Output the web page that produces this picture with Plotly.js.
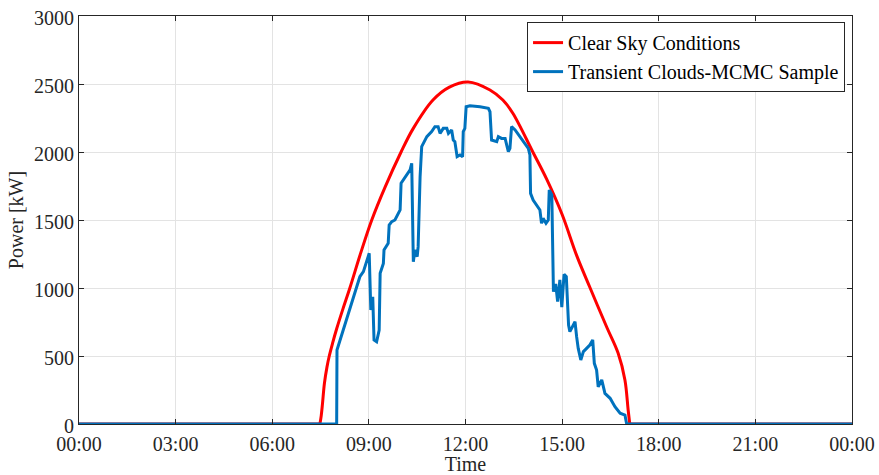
<!DOCTYPE html>
<html>
<head>
<meta charset="utf-8">
<script src="https://cdn.plot.ly/plotly-3.0.1.min.js"></script>
<style>html,body{margin:0;padding:0;background:#fff;}#chart{width:879px;height:475px;}</style>
</head>
<body>
<div id="chart"></div>
<script>
// Time in hours of the day
var clearNightHours = [0, 7.48, null, 17.1, 24];
var clearNightPower = [0, 0, null, 0, 0];
var clearHours = [7.48, 7.52, 7.56, 7.62, 7.70, 7.77, 7.88, 8.0, 8.2, 8.41, 8.75, 9.09, 9.5, 10.0, 10.37, 10.99, 11.5, 12.08, 12.76, 13.16, 13.47, 14.09, 14.52, 15.0, 15.45, 15.87, 16.38, 16.74, 16.95, 17.05, 17.1];
var clearPower = [0, 60, 150, 300, 420, 500, 600, 700, 850, 1000, 1260, 1500, 1740, 2000, 2170, 2382, 2477, 2515, 2456, 2382, 2285, 2000, 1800, 1540, 1240, 1000, 715, 520, 324, 103, 0];

var mcmcHours = [0, 8.00, 8.01, 8.41, 8.72, 8.83, 9.01, 9.06, 9.12, 9.16, 9.24, 9.32, 9.35, 9.45, 9.47, 9.60, 9.63, 9.71, 9.81, 9.97, 10.00, 10.28, 10.33, 10.38, 10.43, 10.50, 10.53, 10.59, 10.64, 10.80, 10.95, 11.05, 11.15, 11.21, 11.31, 11.42, 11.47, 11.57, 11.62, 11.67, 11.74, 11.83, 11.91, 11.93, 11.98, 12.02, 12.14, 12.45, 12.71, 12.76, 12.81, 12.97, 13.02, 13.12, 13.23, 13.28, 13.33, 13.38, 13.43, 13.54, 13.95, 14.00, 14.02, 14.10, 14.31, 14.36, 14.41, 14.50, 14.57, 14.60, 14.68, 14.73, 14.80, 14.86, 14.93, 14.99, 15.06, 15.13, 15.16, 15.20, 15.24, 15.40, 15.45, 15.50, 15.58, 15.66, 15.76, 15.86, 15.95, 16.00, 16.07, 16.12, 16.23, 16.33, 16.49, 16.64, 16.80, 16.95, 17.00, 17.01, 24];
var mcmcPower = [0, 0, 544, 838, 1083, 1120, 1255, 838, 936, 618, 605, 691, 1108, 1181, 1279, 1328, 1463, 1488, 1500, 1574, 1770, 1868, 1917, 1193, 1279, 1230, 1304, 1818, 2040, 2113, 2150, 2186, 2186, 2137, 2174, 2174, 2137, 2162, 2088, 2076, 1966, 1978, 1966, 2150, 2174, 2333, 2340, 2333, 2321, 2296, 2088, 2076, 2113, 2100, 2100, 2051, 2002, 2027, 2186, 2162, 2027, 1978, 1696, 1647, 1574, 1476, 1512, 1476, 1500, 1721, 1684, 973, 1030, 900, 1060, 860, 1100, 1083, 920, 728, 679, 752, 642, 556, 471, 532, 556, 581, 618, 446, 397, 274, 324, 225, 189, 127, 79, 66, 5, 0, 0];

var tickHours = [0, 3, 6, 9, 12, 15, 18, 21, 24];
var tickLabels = ["00:00", "03:00", "06:00", "09:00", "12:00", "15:00", "18:00", "21:00", "00:00"];
var powerTicks = [0, 500, 1000, 1500, 2000, 2500, 3000];

var FONT = "Liberation Serif, Times New Roman, serif";
var axisCommon = {
  showgrid: true, gridcolor: "#e3e3e3", gridwidth: 1,
  showline: true, linecolor: "#262626", linewidth: 1,
  mirror: "ticks", ticks: "inside", ticklen: 5, tickcolor: "#262626",
  zeroline: false, tickfont: {family: FONT, size: 20, color: "#262626"}
};

var traces = [
  {x: clearNightHours, y: clearNightPower, type: "scatter", mode: "lines", name: "Clear Sky Conditions",
   legendgroup: "clear", showlegend: false, connectgaps: false,
   line: {color: "#FF0000", width: 3}},
  {x: clearHours, y: clearPower, type: "scatter", mode: "lines", name: "Clear Sky Conditions",
   legendgroup: "clear",
   line: {color: "#FF0000", width: 3, shape: "spline", smoothing: 1}},
  {x: mcmcHours, y: mcmcPower, type: "scatter", mode: "lines", name: "Transient Clouds-MCMC Sample",
   line: {color: "#0072BD", width: 3}}
];

var layout = {
  width: 879, height: 475,
  margin: {l: 79, r: 27, t: 16, b: 51},
  paper_bgcolor: "#ffffff", plot_bgcolor: "#ffffff",
  font: {family: FONT, size: 20, color: "#262626"},
  xaxis: Object.assign({}, axisCommon, {
    range: [0, 24], tickmode: "array", tickvals: tickHours, ticktext: tickLabels,
    ticklabelstandoff: 2,
    title: {text: "Time", font: {family: FONT, size: 20, color: "#262626"}, standoff: 3}
  }),
  yaxis: Object.assign({}, axisCommon, {
    range: [0, 3000], tickmode: "array", tickvals: powerTicks,
    ticklabelshift: 2,
    title: {text: "Power [kW]", font: {family: FONT, size: 20, color: "#262626"}, standoff: 5}
  }),
  showlegend: true,
  legend: {
    x: 0.991, y: 0.985, xanchor: "right", yanchor: "top",
    bgcolor: "#ffffff", bordercolor: "#262626", borderwidth: 1,
    font: {family: FONT, size: 20, color: "#000000"},
    itemwidth: 30, tracegroupgap: 0
  }
};

Plotly.newPlot("chart", traces, layout, {displayModeBar: false, staticPlot: true});
</script>
</body>
</html>
